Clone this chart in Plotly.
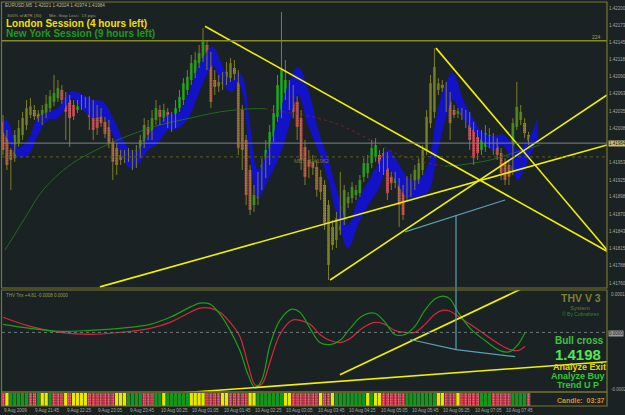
import plotly.graph_objects as go

# ---------------- data ----------------
opens = [1.42018, 1.41997, 1.41973, 1.41960, 1.41984, 1.41997, 1.42013, 1.42029, 1.42037, 1.42031,
         1.42024, 1.42032, 1.42040, 1.42050, 1.42056, 1.42069, 1.42056, 1.42053, 1.42045, 1.42037,
         1.42043, 1.42047, 1.42053, 1.42043, 1.42034, 1.42031, 1.42018, 1.42010, 1.41986, 1.41976,
         1.41965, 1.41959, 1.41960, 1.41965, 1.41957, 1.41970, 1.41986, 1.42010, 1.41995, 1.42021,
         1.42037, 1.42024, 1.42034, 1.42024, 1.42015, 1.42040, 1.42053, 1.42069, 1.42085, 1.42096,
         1.42112, 1.42120, 1.42141, 1.42120, 1.42085, 1.42075, 1.42079, 1.42085, 1.42088, 1.42104,
         1.42096, 1.42037, 1.41989, 1.41941, 1.41885, 1.41896, 1.41917, 1.41941, 1.41957, 1.41994,
         1.42026, 1.42032, 1.42064, 1.42074, 1.42066, 1.42050, 1.42024, 1.41978, 1.41957, 1.41954,
         1.41946, 1.41930, 1.41917, 1.41885, 1.41850, 1.41829, 1.41845, 1.41861, 1.41888, 1.41896,
         1.41901, 1.41904, 1.41930, 1.41936, 1.41952, 1.41962, 1.41965, 1.41968, 1.41962, 1.41930,
         1.41920, 1.41922, 1.41909, 1.41898, 1.41906, 1.41914, 1.41925, 1.41941, 1.41973, 1.42016,
         1.42034, 1.42069, 1.42077, 1.42074, 1.42058, 1.42037, 1.42031, 1.42034, 1.42029, 1.42026,
         1.42008, 1.41994, 1.41973, 1.41978, 1.41984, 1.41992, 1.41984, 1.41968, 1.41952, 1.41949,
         1.41941, 1.42010, 1.42021, 1.42016, 1.41997]
highs = [1.42029, 1.42005, 1.41976, 1.42005, 1.42021, 1.42034, 1.42053, 1.42056, 1.42045, 1.42037,
         1.42045, 1.42061, 1.42069, 1.42093, 1.42085, 1.42077, 1.42066, 1.42061, 1.42053, 1.42053,
         1.42061, 1.42058, 1.42059, 1.42053, 1.42045, 1.42040, 1.42026, 1.42021, 1.41992, 1.41984,
         1.41973, 1.41973, 1.41976, 1.41973, 1.41981, 1.41997, 1.42024, 1.42021, 1.42037, 1.42053,
         1.42045, 1.42047, 1.42040, 1.42034, 1.42053, 1.42069, 1.42088, 1.42101, 1.42125, 1.42130,
         1.42141, 1.42168, 1.42149, 1.42130, 1.42101, 1.42093, 1.42098, 1.42114, 1.42120, 1.42117,
         1.42101, 1.42045, 1.41997, 1.41949, 1.41917, 1.41938, 1.41960, 1.41989, 1.42013, 1.42045,
         1.42093, 1.42194, 1.42117, 1.42085, 1.42077, 1.42059, 1.42037, 1.41989, 1.41973, 1.41965,
         1.41957, 1.41941, 1.41925, 1.41893, 1.41861, 1.41874, 1.41938, 1.41917, 1.41906, 1.41922,
         1.41917, 1.41933, 1.41960, 1.41965, 1.41989, 1.41992, 1.41973, 1.41976, 1.41970, 1.41938,
         1.41938, 1.41928, 1.41917, 1.41931, 1.41935, 1.41949, 1.41960, 1.41981, 1.42037, 1.42093,
         1.42136, 1.42088, 1.42085, 1.42082, 1.42066, 1.42045, 1.42040, 1.42040, 1.42037, 1.42034,
         1.42018, 1.42005, 1.42005, 1.42013, 1.42008, 1.42000, 1.41992, 1.41976, 1.41960, 1.41957,
         1.42024, 1.42082, 1.42045, 1.42024, 1.42002]
lows = [1.41965, 1.41941, 1.41909, 1.41954, 1.41978, 1.41989, 1.42005, 1.42024, 1.42021, 1.42018,
        1.42013, 1.42024, 1.42034, 1.42043, 1.42050, 1.42047, 1.41989, 1.41978, 1.42021, 1.42032,
        1.42037, 1.42040, 1.42005, 1.41989, 1.41997, 1.42010, 1.41992, 1.41976, 1.41925, 1.41933,
        1.41949, 1.41952, 1.41954, 1.41941, 1.41944, 1.41960, 1.41976, 1.41989, 1.41989, 1.42013,
        1.42013, 1.42018, 1.42008, 1.42002, 1.42008, 1.42034, 1.42045, 1.42061, 1.42077, 1.42088,
        1.42104, 1.42114, 1.42101, 1.42040, 1.42061, 1.42066, 1.42069, 1.42077, 1.42082, 1.42085,
        1.41965, 1.41941, 1.41885, 1.41869, 1.41874, 1.41885, 1.41909, 1.41928, 1.41949, 1.41986,
        1.42018, 1.42024, 1.42053, 1.42037, 1.42024, 1.41989, 1.41941, 1.41917, 1.41928, 1.41933,
        1.41898, 1.41893, 1.41845, 1.41765, 1.41813, 1.41816, 1.41837, 1.41853, 1.41880, 1.41888,
        1.41893, 1.41898, 1.41922, 1.41928, 1.41944, 1.41954, 1.41938, 1.41933, 1.41893, 1.41909,
        1.41912, 1.41850, 1.41861, 1.41890, 1.41898, 1.41909, 1.41919, 1.41933, 1.41965, 1.42008,
        1.42024, 1.42061, 1.42066, 1.42034, 1.41989, 1.42024, 1.42024, 1.42021, 1.42008, 1.41973,
        1.41949, 1.41957, 1.41965, 1.41970, 1.41976, 1.41965, 1.41957, 1.41925, 1.41917, 1.41917,
        1.41933, 1.42005, 1.42013, 1.41992, 1.41981]
closes = [1.41973, 1.41949, 1.41957, 1.41997, 1.42008, 1.42024, 1.42040, 1.42043, 1.42027, 1.42023,
          1.42037, 1.42047, 1.42059, 1.42064, 1.42072, 1.42053, 1.42034, 1.42024, 1.42027, 1.42043,
          1.42051, 1.42053, 1.42026, 1.42005, 1.42008, 1.42016, 1.41999, 1.41984, 1.41954, 1.41949,
          1.41957, 1.41963, 1.41965, 1.41957, 1.41973, 1.41989, 1.42013, 1.41997, 1.42024, 1.42040,
          1.42026, 1.42037, 1.42021, 1.42013, 1.42040, 1.42058, 1.42080, 1.42090, 1.42112, 1.42117,
          1.42128, 1.42146, 1.42114, 1.42050, 1.42074, 1.42082, 1.42085, 1.42098, 1.42112, 1.42095,
          1.41976, 1.41973, 1.41901, 1.41877, 1.41901, 1.41925, 1.41949, 1.41973, 1.42002, 1.42032,
          1.42077, 1.42101, 1.42085, 1.42050, 1.42034, 1.42010, 1.41957, 1.41930, 1.41946, 1.41944,
          1.41909, 1.41906, 1.41856, 1.41789, 1.41821, 1.41864, 1.41882, 1.41909, 1.41898, 1.41914,
          1.41909, 1.41925, 1.41952, 1.41952, 1.41976, 1.41981, 1.41946, 1.41941, 1.41904, 1.41920,
          1.41928, 1.41885, 1.41869, 1.41922, 1.41925, 1.41941, 1.41952, 1.41973, 1.42026, 1.42080,
          1.42106, 1.42080, 1.42072, 1.42042, 1.42016, 1.42029, 1.42035, 1.42029, 1.42021, 1.41989,
          1.41960, 1.41968, 1.41994, 1.42000, 1.41997, 1.41973, 1.41965, 1.41936, 1.41925, 1.41930,
          1.42016, 1.42042, 1.42034, 1.42000, 1.41984]
bars = list(range(len(closes)))

band_x = [0, 1.3, 3.8, 6.4, 8.9, 11.5, 14.0, 16.6, 17.8, 20.4, 22.9, 25.5, 28.0, 30.6, 32.4,
          34.4, 37.0, 39.5, 42.1, 44.6, 47.2, 49.7, 52.3, 53.5, 55.3, 57.4, 58.6, 59.9, 61.2, 62.9,
          65.0, 67.6, 70.1, 72.7, 75.2, 77.8, 80.3, 82.9, 85.4, 88.0, 90.5, 93.1, 95.6, 98.2, 100.7,
          103.3, 105.8, 108.4, 110.9, 113.5, 114.7, 117.3, 119.8, 122.4, 124.9, 127.5, 130.0, 131.3, 133.9, 136.4]
band_top = [1.42021, 1.42018, 1.41976, 1.41989, 1.42024, 1.42034, 1.42040, 1.42064, 1.42067, 1.42061,
            1.42053, 1.42050, 1.42024, 1.41989, 1.41973, 1.41973, 1.41997, 1.42013, 1.42029, 1.42032,
            1.42061, 1.42104, 1.42133, 1.42138, 1.42117, 1.42088, 1.42085, 1.42098, 1.42088, 1.42013,
            1.41941, 1.41973, 1.42021, 1.42077, 1.42106, 1.42069, 1.42005, 1.41957, 1.41901, 1.41853,
            1.41893, 1.41922, 1.41949, 1.41973, 1.41952, 1.41928, 1.41925, 1.41949, 1.42037, 1.42088,
            1.42096, 1.42053, 1.42024, 1.42000, 1.41995, 1.41997, 1.41981, 1.41973, 1.41989, 1.42024]
band_bot = [1.42002, 1.41989, 1.41962, 1.41965, 1.41997, 1.42021, 1.42024, 1.42048, 1.42056, 1.42037,
            1.42024, 1.42026, 1.41997, 1.41957, 1.41944, 1.41949, 1.41973, 1.41984, 1.42005, 1.42008,
            1.42024, 1.42061, 1.42098, 1.42109, 1.42085, 1.42069, 1.42066, 1.42082, 1.42061, 1.41965,
            1.41896, 1.41925, 1.41957, 1.42005, 1.42061, 1.42013, 1.41973, 1.41925, 1.41861, 1.41816,
            1.41853, 1.41885, 1.41909, 1.41944, 1.41917, 1.41896, 1.41898, 1.41906, 1.41973, 1.42037,
            1.42053, 1.42024, 1.42005, 1.41986, 1.41973, 1.41981, 1.41941, 1.41925, 1.41957, 1.41992]

ma_x = [0.5, 5.6, 10.2, 17.1, 24.7, 32.4, 40.0, 47.7, 55.3, 63.0, 66.8, 70.6, 78.3, 85.9,
        93.6, 101.2, 108.9, 112.7, 116.5, 124.2, 131.1, 136.9]
ma_y = [1.41813, 1.41864, 1.41909, 1.41949, 1.41976, 1.41997, 1.42013, 1.42024, 1.42034, 1.42039,
        1.42039, 1.42035, 1.42027, 1.42013, 1.41989, 1.41965, 1.41951, 1.41947, 1.41949, 1.41957,
        1.41970, 1.41981]

# trend lines: (x0, price0, x1, price1)
trend_lines = [(51.5, 1.42171, 154.0, 1.41811),
               (24.7, 1.41754, 154.0, 1.41981),
               (83.4, 1.41765, 154.0, 1.42061),
               (110.4, 1.42136, 154.0, 1.41813)]
channel_line = (102.5, 1.41842, 128.0, 1.41893)
level_224 = 1.42148
bid_price = 1.41984
mbs_level = 1.41962

price_ticks = [1.42200, 1.42173, 1.42145, 1.42118, 1.42090, 1.42063, 1.42035, 1.42008,
               1.41953, 1.41925, 1.41898, 1.41870, 1.41843, 1.41815, 1.41788, 1.41760]

osc_x = [0, 6.9, 14.5, 22.2, 29.8, 37.5, 42.6, 47.7, 50.2, 52.8, 55.3, 57.9, 60.4, 62.5, 64.3,
         66.0, 68.1, 70.6, 73.7, 75.7, 78.3, 80.8, 83.4, 85.9, 88.5, 91.5, 94.8, 97.4, 99.9, 102.5,
         105.0, 107.6, 110.1, 112.2, 114.0, 116.0, 119.1, 122.9, 126.7, 129.3, 131.3, 133.1]
osc_green = [0.00004, 0.00002, 0.000005, 0.00001, 0.00002, 0.00004, 0.000075, 0.000125, 0.000145,
             0.00014, 0.00009, 0.00001, -0.00009, -0.00021, -0.000275, -0.000235, -0.00006,
             0.00006, 0.000115, 0.0001, 0.00002, -0.00005, -0.00006, -0.00004, 0.00002,
             0.00008, 0.000095, 0.00005, -0.00001, -0.00001, 0.00003, 0.00011, 0.000165,
             0.00018, 0.000165, 0.0001, 0.00002, -0.00004, -0.00009, -0.000095, -0.00006, 0.0]
osc_red = [0.000075, 0.00003, 0.0, -0.00001, 0.0, 0.00002, 0.00005, 0.0001, 0.00012,
           0.00012, 0.0001, 0.00005, -0.00002, -0.00016, -0.00026, -0.000255, -0.000145,
           -0.00001, 0.00006, 0.00006, 0.00004, -0.00001, -0.00004, -0.00005, -0.00003,
           0.00002, 0.00005, 0.00004, 0.00001, 0.0, 0.0, 0.00004, 0.00009, 0.00011,
           0.000105, 0.00008, 0.00004, -0.00001, -0.00006, -0.000085, -0.00009, -0.00007]
osc_lines = [(85.9, -0.00021, 132.1, 0.000215), (45.1, -0.0003, 154.0, -0.000145)]
osc_blue = ([103.8, 115.5, 130.6], [-0.000035, -0.000085, -0.00012])

strip_runs = [("R", 1), ("Y", 1), ("G", 5), ("R", 2), ("G", 1), ("Y", 2), ("G", 1), ("R", 3), ("Y", 1),
              ("R", 1), ("Y", 4), ("R", 7), ("Y", 3), ("G", 4), ("R", 3), ("G", 2), ("Y", 1), ("G", 6),
              ("Y", 4), ("R", 4), ("Y", 2), ("R", 5), ("Y", 2), ("G", 7), ("Y", 2), ("R", 7), ("Y", 1),
              ("R", 2), ("Y", 1), ("G", 8), ("Y", 1), ("G", 1), ("Y", 2), ("R", 6), ("G", 8), ("Y", 2),
              ("R", 3), ("Y", 1), ("R", 5), ("G", 3), ("R", 5), ("G", 4), ("R", 1)]

date_labels = ["9 Aug 2009", "9 Aug 21:45", "9 Aug 22:25", "9 Aug 23:05", "9 Aug 23:45",
               "10 Aug 00:25", "10 Aug 01:05", "10 Aug 01:45", "10 Aug 02:25", "10 Aug 03:05",
               "10 Aug 03:45", "10 Aug 04:25", "10 Aug 05:05", "10 Aug 05:45", "10 Aug 06:25",
               "10 Aug 07:05", "10 Aug 07:45"]
date_bars = [0, 8, 16, 24, 32, 40, 48, 56, 64, 72, 80, 88, 96, 104, 112, 120, 128]

# ---------------- styling ----------------
W, H = 625, 415
BG = "#1a2224"
OLIVE = "#77772a"
YELLOW = "#f0f000"
GREEN_C = "#13951c"
RED_C = "#c8283e"
FONT = "Liberation Sans"

def py(p):
    return 1 - p / H

def pxp(p):
    return p / W

fig = go.Figure()

# blue band
fig.add_trace(go.Scatter(x=band_x, y=band_bot, mode="lines", line=dict(width=0, shape="spline", color="#1414cc"),
                         hoverinfo="skip", yaxis="y"))
fig.add_trace(go.Scatter(x=band_x, y=band_top, mode="lines", line=dict(width=0.5, shape="spline", color="#1414cc"),
                         fill="tonexty", fillcolor="#1212c8", hoverinfo="skip", yaxis="y"))

# long MA (green rising / red falling)
fig.add_trace(go.Scatter(x=ma_x[:11], y=ma_y[:11], mode="lines",
                         line=dict(color="#1f6a1f", width=1, shape="spline"), yaxis="y"))
fig.add_trace(go.Scatter(x=ma_x[10:18], y=ma_y[10:18], mode="lines",
                         line=dict(color="#7a2020", width=1, shape="spline", dash="dot"), yaxis="y"))
fig.add_trace(go.Scatter(x=ma_x[17:], y=ma_y[17:], mode="lines",
                         line=dict(color="#1f6a1f", width=1, shape="spline"), yaxis="y"))

# wicks
wx, wy = [], []
for i, h, l in zip(bars, highs, lows):
    wx += [i, i, None]
    wy += [l, h, None]
fig.add_trace(go.Scatter(x=wx, y=wy, mode="lines", line=dict(color="#7e7e22", width=1), yaxis="y"))

# bodies
base = [min(o, c) for o, c in zip(opens, closes)]
hgt = [max(abs(c - o), 0.00002) for o, c in zip(opens, closes)]
up = [c >= o for o, c in zip(opens, closes)]
fig.add_trace(go.Bar(x=bars, y=hgt, base=base, width=0.72, yaxis="y",
                     marker=dict(color=[GREEN_C if u else RED_C for u in up], line_width=0,
                                 pattern=dict(shape=["" if u else "." for u in up],
                                              fgcolor="#f06a80", size=2.5, solidity=0.3))))

# horizontal levels
fig.add_shape(type="line", xref="paper", x0=pxp(2), x1=pxp(607), yref="y", y0=level_224, y1=level_224,
              line=dict(color="#8a8a26", width=1.5))
fig.add_shape(type="line", xref="paper", x0=pxp(2), x1=pxp(607), yref="y", y0=bid_price, y1=bid_price,
              line=dict(color="#7c8484", width=1))
fig.add_shape(type="line", xref="paper", x0=pxp(2), x1=pxp(607), yref="y", y0=mbs_level, y1=mbs_level,
              line=dict(color="#5e5e1c", width=1, dash="dot"))

# trend lines
for x0, p0, x1, p1 in trend_lines:
    fig.add_trace(go.Scatter(x=[x0, x1], y=[p0, p1], mode="lines", line=dict(color=YELLOW, width=1.6), yaxis="y"))
fig.add_trace(go.Scatter(x=[channel_line[0], channel_line[2]], y=[channel_line[1], channel_line[3]],
                         mode="lines", line=dict(color="#5aa0b4", width=1.2), yaxis="y"))

# oscillator
fig.add_shape(type="line", xref="paper", x0=pxp(2), x1=pxp(607), yref="y2", y0=0, y1=0,
              line=dict(color="#707878", width=1, dash="dot"))
fig.add_trace(go.Scatter(x=osc_x, y=osc_red, mode="lines", line=dict(color="#d8283c", width=1.2, shape="spline"), yaxis="y2"))
fig.add_trace(go.Scatter(x=osc_x, y=osc_green, mode="lines", line=dict(color="#1aa01a", width=1.2, shape="spline"), yaxis="y2"))
for x0, v0, x1, v1 in osc_lines:
    fig.add_trace(go.Scatter(x=[x0, x1], y=[v0, v1], mode="lines", line=dict(color=YELLOW, width=1.6), yaxis="y2"))
fig.add_trace(go.Scatter(x=osc_blue[0], y=osc_blue[1], mode="lines", line=dict(color="#5aa0b4", width=1.2), yaxis="y2"))

# vertical light-blue marker line crossing both panels
fig.add_shape(type="line", xref="x", x0=115.5, x1=115.5, yref="paper", y0=py(215), y1=py(350),
              line=dict(color="#5aa0b4", width=1.2))

# bottom strip
strip_cols = []
for c, n in strip_runs:
    strip_cols += [c] * n
cmap = {"R": "#c8283e", "Y": "#e8e800", "G": "#15961c"}
fig.add_trace(go.Bar(x=list(range(len(strip_cols))), y=[1] * len(strip_cols), width=0.86, yaxis="y3",
                     marker=dict(color=[cmap[c] for c in strip_cols], line_width=0,
                                 pattern=dict(shape=["." if c == "R" else "" for c in strip_cols],
                                              fgcolor="#f06a80", size=2.5, solidity=0.3))))

# panel borders
for top, bot in [(2, 288), (290, 392), (392, 406)]:
    fig.add_shape(type="rect", xref="paper", yref="paper", x0=pxp(1.5), x1=pxp(607), y0=py(bot), y1=py(top),
                  line=dict(color=OLIVE, width=1.2), layer="above")

# ---------------- annotations ----------------
ann = []
def txt(x, y, s, size, color, bold=False, anchor="left", family=FONT):
    ann.append(dict(x=pxp(x), y=py(y), xref="paper", yref="paper", text=("<b>%s</b>" % s) if bold else s,
                    showarrow=False, xanchor=anchor, yanchor="middle",
                    font=dict(size=size, color=color, family=family)))

txt(3, 5, "EURUSD,M5  1.42021 1.42024 1.41974 1.41984", 4.6, "#b8b8a0")
txt(5, 15, "300% of ATR (30)      Min. Stop Loss:  13 pips", 4.4, "#a09a58")
txt(4, 23, "London Session (4 hours left)", 10, "#f0e000", bold=True)
txt(4, 33, "New York Session (9 hours left)", 10, "#1e9a1e", bold=True)
txt(603, 37, "224", 5, "#a0a050", anchor="right")
txt(292, 161, "MBS  1.41962", 5.5, "#7a7a2a")
txt(4, 295, "THV Trix +4.81 -0.0008 0.0000", 4.5, "#9a9a50")
txt(581, 298, "THV V 3", 10.5, "#80802c", bold=True, anchor="center")
txt(580, 308, "System", 6, "#707030", anchor="center")
txt(581, 314, "© By Cobraforex", 5, "#2a8a2a", anchor="center")
txt(579, 340, "Bull cross", 10, "#3fc43f", bold=True, anchor="center")
txt(578, 354, "1.4198", 15, "#50e850", bold=True, anchor="center")
txt(579, 367, "Analyze Exit", 9, "#e6d800", bold=True, anchor="center")
txt(578, 376, "Analyze Buy", 9, "#34c834", bold=True, anchor="center")
txt(578, 385, "Trend U P", 9, "#34c834", bold=True, anchor="center")
txt(581, 400, "Candle:  03:37", 7, "#d8902c", bold=True, anchor="center")

# right-axis labels of oscillator
txt(608.5, 294, "0.0001", 4.5, "#a8a8a0")
ann.append(dict(x=pxp(608), y=py(333), xref="paper", yref="paper", text="0.0000", showarrow=False,
                xanchor="left", yanchor="middle", bgcolor="#9a9a9a", borderpad=0,
                font=dict(size=4.5, color="#202020", family=FONT)))
txt(608.5, 389, "-0.0002", 4.5, "#a8a8a0")
# bid price box
ann.append(dict(x=pxp(608), y=bid_price, xref="paper", yref="y", text="1.41984", showarrow=False,
                xanchor="left", yanchor="middle", bgcolor="#c8c070", borderpad=0,
                font=dict(size=4.5, color="#202020", family=FONT)))

for lbl, b in zip(date_labels, date_bars):
    ann.append(dict(x=b - 0.25, y=py(410), xref="x", yref="paper", text=lbl, showarrow=False,
                    xanchor="left", yanchor="middle", font=dict(size=4.5, color="#a8a8a8", family=FONT)))

fig.update_layout(
    width=W, height=H, margin=dict(l=0, r=0, t=0, b=0),
    paper_bgcolor=BG, plot_bgcolor=BG, showlegend=False, barmode="overlay",
    annotations=ann,
    xaxis=dict(domain=[pxp(2), pxp(607)], range=[-0.255, 154.0], showticklabels=False, showgrid=False,
               zeroline=False, anchor="y3", fixedrange=True),
    yaxis=dict(domain=[py(288), py(2)], range=[1.417522, 1.422098], side="right", anchor="x",
               tickvals=price_ticks, ticktext=["%.5f" % v for v in price_ticks], ticks="",
               ticklabelstandoff=1,
               tickfont=dict(size=4.5, color="#a8a8a0", family=FONT), showgrid=False, zeroline=False,
               automargin=False),
    yaxis2=dict(domain=[py(392), py(290)], range=[-0.000295, 0.00021], side="right", anchor="x",
                showticklabels=False, showgrid=False, zeroline=False, automargin=False),
    yaxis3=dict(domain=[py(406), py(393)], range=[0, 1], showticklabels=False, showgrid=False,
                zeroline=False, automargin=False),
)

fig.write_html("out.html")
